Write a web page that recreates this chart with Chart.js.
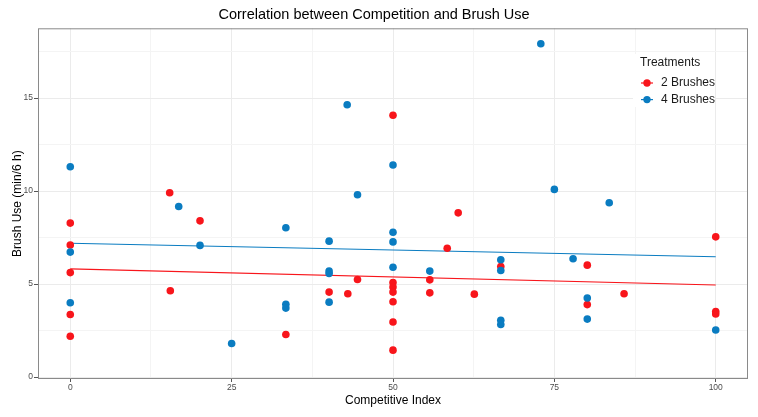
<!DOCTYPE html>
<html>
<head>
<meta charset="utf-8">
<script src="https://cdn.jsdelivr.net/npm/chart.js@4"></script>
<style>
  html, body { margin: 0; padding: 0; background: #fff; }
  #wrap { width: 758px; height: 417px; }
</style>
</head>
<body>
<div id="wrap"><canvas id="brushChart" width="758" height="417"></canvas></div>
<script>
/* ---------- Data ---------- */

const twoBrushX = [0, 0, 0, 0, 0, 15.4, 15.5, 20.1, 33.4, 40.1, 43, 44.5, 50, 50, 50, 50, 50, 50, 50,
  55.7, 55.7, 58.4, 60.1, 62.6, 66.7, 80.1, 80.1, 85.8, 100, 100, 100];
const twoBrushY = [8.28, 7.1, 5.62, 3.37, 2.2, 9.91, 4.64, 8.4, 2.29, 4.57, 4.48, 5.25, 14.08, 5.09, 4.84,
  4.57, 4.05, 2.96, 1.45, 5.23, 4.53, 6.93, 8.83, 4.46, 5.95, 6.02, 3.9, 4.48, 7.54, 3.53, 3.39];

const fourBrushX = [0, 0, 0, 16.8, 20.1, 25, 33.4, 33.4, 33.4, 40.1, 40.1, 40.1, 40.1, 42.9, 44.5,
  50, 50, 50, 50, 55.7, 66.7, 66.7, 66.7, 66.7, 72.9, 75, 77.9, 80.1, 80.1, 83.5, 100];
const fourBrushY = [11.31, 6.72, 4.0, 9.17, 7.08, 1.81, 8.03, 3.92, 3.71, 7.31, 5.7, 5.57, 4.03, 14.64, 9.8,
  11.4, 7.79, 7.27, 5.91, 5.7, 6.31, 5.73, 3.06, 2.83, 17.92, 10.09, 6.36, 4.25, 3.12, 9.37, 2.53];

// fitted lines at x = 0 and x = 100
const fitX = [0, 100];
const twoBrushFit = [5.82, 4.95];
const fourBrushFit = [7.2, 6.47];

const xTicks = [0, 12.5, 25, 37.5, 50, 62.5, 75, 87.5, 100];
const yTicks = [0, 2.5, 5, 7.5, 10, 12.5, 15, 17.5];
const xLabels = ["0", "", "25", "", "50", "", "75", "", "100"];
const yLabels = ["0", "", "5", "", "10", "", "15", ""];

const seriesNames = ["2 Brushes", "4 Brushes"];
const RED = "#F8151B";
const BLUE = "#0A7CC1";

/* ---------- Helpers ---------- */

const pts = (xs, ys) => xs.map((x, i) => ({ x, y: ys[i] }));
const isMajor = (arr, labels, v) => labels[arr.indexOf(v)] !== "";

/* ---------- Panel border + legend ---------- */

const panelPlugin = {
  id: "panel",
  afterDraw(chart) {
    const { ctx, chartArea: a } = chart;
    ctx.save();
    ctx.strokeStyle = "#8A8A8A";
    ctx.lineWidth = 1;
    ctx.strokeRect(a.left + 0.5, a.top + 0.5, a.right - a.left - 1, a.bottom - a.top - 1);

    // legend box inside the panel
    ctx.fillStyle = "#fff";
    ctx.fillRect(633, 54, 82, 53);
    ctx.fillStyle = "#1a1a1a";
    ctx.font = "12px 'Liberation Sans', Arial, sans-serif";
    ctx.textBaseline = "middle";
    ctx.textAlign = "left";
    ctx.fillText("Treatments", 640, 63);
    [RED, BLUE].forEach((c, i) => {
      const y = 83 + i * 16.6;
      ctx.strokeStyle = c;
      ctx.lineWidth = 1.2;
      ctx.beginPath();
      ctx.moveTo(641, y);
      ctx.lineTo(653, y);
      ctx.stroke();
      ctx.fillStyle = c;
      ctx.beginPath();
      ctx.arc(647, y, 3.7, 0, Math.PI * 2);
      ctx.fill();
      ctx.fillStyle = "#1a1a1a";
      ctx.fillText(seriesNames[i], 661, y);
    });
    ctx.restore();
  }
};

/* ---------- Chart ---------- */

const tickFont = { family: "'Liberation Sans', Arial, sans-serif", size: 8.5 };
const titleFont = { family: "'Liberation Sans', Arial, sans-serif", size: 12 };

new Chart(document.getElementById("brushChart"), {
  type: "scatter",
  data: {
    datasets: [
      {
        label: seriesNames[0],
        data: pts(twoBrushX, twoBrushY),
        backgroundColor: RED,
        borderColor: RED,
        borderWidth: 0,
        pointRadius: 3.8,
        order: 2
      },
      {
        label: seriesNames[1],
        data: pts(fourBrushX, fourBrushY),
        backgroundColor: BLUE,
        borderColor: BLUE,
        borderWidth: 0,
        pointRadius: 3.8,
        order: 1
      },
      {
        label: "fit2",
        data: pts(fitX, twoBrushFit),
        showLine: true,
        borderColor: RED,
        borderWidth: 1.1,
        pointRadius: 0,
        order: 3
      },
      {
        label: "fit4",
        data: pts(fitX, fourBrushFit),
        showLine: true,
        borderColor: BLUE,
        borderWidth: 1.1,
        pointRadius: 0,
        order: 3
      }
    ]
  },
  options: {
    responsive: false,
    animation: false,
    layout: { padding: { left: 0, right: 10, top: 0, bottom: 0 } },
    plugins: {
      legend: { display: false },
      tooltip: { enabled: false },
      title: {
        display: true,
        text: "Correlation between Competition and Brush Use",
        color: "#000",
        font: { family: "'Liberation Sans', Arial, sans-serif", size: 14.5, weight: "normal" },
        padding: { top: 5.8, bottom: 5.1 }
      }
    },
    scales: {
      x: {
        type: "linear",
        min: -5,
        max: 105,
        afterBuildTicks: s => { s.ticks = xTicks.map(v => ({ value: v })); },
        afterFit: s => { s.height = 38; },
        border: { display: false },
        grid: {
          color: c => isMajor(xTicks, xLabels, c.tick.value) ? "#EBEBEB" : "#F4F4F4",
          tickColor: c => isMajor(xTicks, xLabels, c.tick.value) ? "#555" : "rgba(0,0,0,0)",
          tickLength: 3
        },
        ticks: {
          autoSkip: false,
          maxRotation: 0,
          padding: 1,
          color: "#4D4D4D",
          font: tickFont,
          callback: v => xLabels[xTicks.indexOf(v)] ?? ""
        },
        title: {
          display: true,
          text: "Competitive Index",
          color: "#000",
          font: titleFont,
          padding: { top: 0, bottom: 9.3 }
        }
      },
      y: {
        type: "linear",
        min: -0.1,
        max: 18.75,
        afterBuildTicks: s => { s.ticks = yTicks.map(v => ({ value: v })); },
        afterFit: s => { s.width = 38; },
        border: { display: false },
        grid: {
          color: c => isMajor(yTicks, yLabels, c.tick.value) ? "#EBEBEB" : "#F4F4F4",
          tickColor: c => isMajor(yTicks, yLabels, c.tick.value) ? "#555" : "rgba(0,0,0,0)",
          tickLength: 4
        },
        ticks: {
          autoSkip: false,
          padding: 1,
          color: "#4D4D4D",
          font: tickFont,
          callback: v => yLabels[yTicks.indexOf(v)] ?? ""
        },
        title: {
          display: true,
          text: "Brush Use (min/6 h)",
          color: "#000",
          font: titleFont,
          padding: { top: 10.3, bottom: 0 }
        }
      }
    }
  },
  plugins: [panelPlugin]
});
</script>
</body>
</html>
